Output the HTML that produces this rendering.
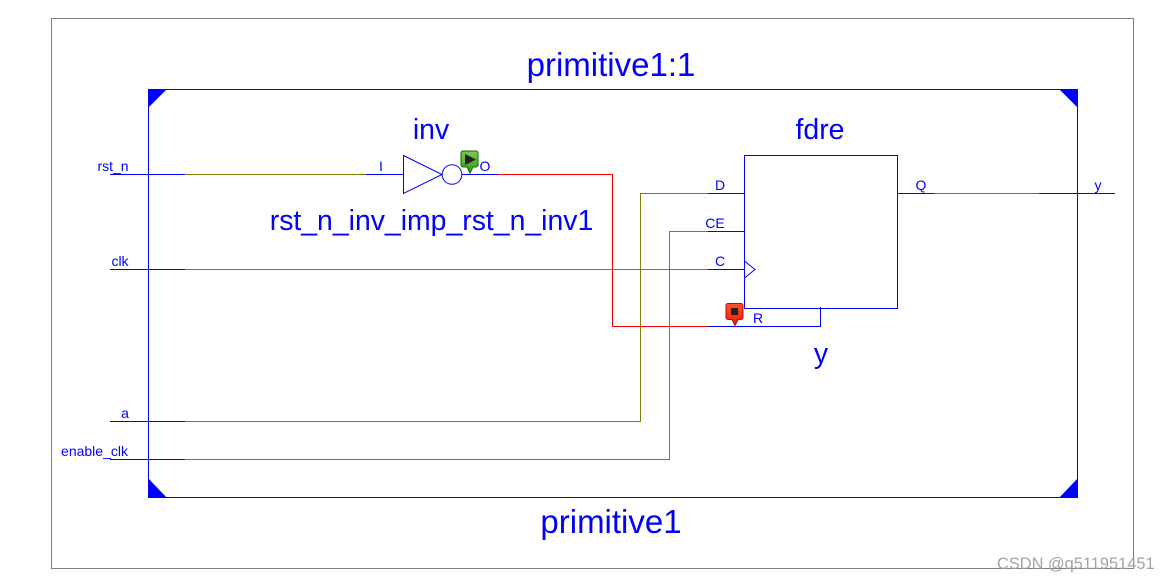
<!DOCTYPE html>
<html>
<head>
<meta charset="utf-8">
<style>
html,body{margin:0;padding:0;background:#fff;width:1169px;height:582px;overflow:hidden}
svg{display:block}
text{font-family:"Liberation Sans",Arial,sans-serif;fill:#0000ff}
.b{font-size:33px;text-anchor:middle}
.m{font-size:28.4px;text-anchor:middle}
.s{font-size:14px;text-anchor:middle}
</style>
</head>
<body>
<svg width="1169" height="582" viewBox="0 0 1169 582" xmlns="http://www.w3.org/2000/svg">
<defs>
<linearGradient id="g" x1="0" y1="0" x2="0" y2="1"><stop offset="0" stop-color="#80c850"/><stop offset="1" stop-color="#2f9a10"/></linearGradient>
<linearGradient id="r" x1="0" y1="0" x2="0" y2="1"><stop offset="0" stop-color="#ff5030"/><stop offset="1" stop-color="#f01800"/></linearGradient>
</defs>
<rect x="51.5" y="18.5" width="1082" height="550" fill="#fff" stroke="#808080" stroke-width="1"/>
<g shape-rendering="crispEdges" fill="none" stroke-width="1">
<!-- primitive box -->
<rect x="148.5" y="89.5" width="929" height="408" stroke="#0000ff"/>
<!-- olive wires -->
<g stroke="#808000">
<path d="M185 174.5H366"/>
<path d="M185 269.5H708"/>
<path d="M185 421.5H640.5V193.5H708"/>
<path d="M185 459.5H669.5V231.5H708"/>
<path d="M934 193.5H1039"/>
</g>
<!-- red wire -->
<path d="M498 174.5H612.5V326.5H708" stroke="#ff0000"/>
<!-- blue stubs -->
<g stroke="#0000ff">
<path d="M110 174.5H185"/>
<path d="M110 269.5H185"/>
<path d="M110 421.5H185"/>
<path d="M110 459.5H185"/>
<path d="M366 174.5H403"/>
<path d="M462 174.5H498"/>
<path d="M708 193.5H744"/>
<path d="M708 231.5H744"/>
<path d="M708 269.5H744"/>
<path d="M708 326.5H820.5V307"/>
<path d="M897 193.5H934"/>
<path d="M1039 193.5H1115"/>
<rect x="744.5" y="155.5" width="153" height="153"/>
</g>
</g>
<!-- corner triangles -->
<g fill="#0000ff">
<polygon points="148,89 167,89 148,108"/>
<polygon points="1078,89 1059,89 1078,108"/>
<polygon points="148,498 167,498 148,478"/>
<polygon points="1078,498 1059,498 1078,478"/>
</g>
<!-- inverter -->
<polygon points="403.5,155.5 442,174.5 403.5,193.5" fill="#fff" stroke="#0000ff" stroke-width="1"/>
<circle cx="452" cy="174.5" r="9.8" fill="#fff" stroke="#0000ff" stroke-width="1"/>
<!-- clock -->
<polyline points="744.5,261 755,269.5 744.5,278" fill="none" stroke="#0000ff" stroke-width="1"/>
<!-- green marker -->
<path d="M463 151h13a2 2 0 0 1 2 2v12a2 2 0 0 1-2 2h-3l-3 6-3-6h-4a2 2 0 0 1-2-2v-12a2 2 0 0 1 2-2z" fill="url(#g)" stroke="#0f6a05" stroke-width="1"/>
<polygon points="465,154 476,159.5 465,165" fill="#222"/>
<!-- red marker -->
<path d="M728 303.5h13a2 2 0 0 1 2 2v12a2 2 0 0 1-2 2h-3l-3 6-3-6h-4a2 2 0 0 1-2-2v-12a2 2 0 0 1 2-2z" fill="url(#r)" stroke="#b01000" stroke-width="1"/>
<rect x="731" y="308" width="7" height="7" fill="#222"/>
<!-- large labels -->
<text class="b" x="611" y="76">primitive1:1</text>
<text class="b" x="611" y="533">primitive1</text>
<text class="m" x="431" y="139">inv</text>
<text class="m" x="431.5" y="230">rst_n_inv_imp_rst_n_inv1</text>
<text class="m" x="820" y="139">fdre</text>
<text class="m" x="821" y="363">y</text>
<!-- small labels -->
<text class="s" x="113" y="171">rst_n</text>
<text class="s" x="120" y="266">clk</text>
<text class="s" x="125" y="418">a</text>
<text class="s" x="94.5" y="456">enable_clk</text>
<text class="s" x="381" y="171">I</text>
<text class="s" x="485" y="171">O</text>
<text class="s" x="720" y="190">D</text>
<text class="s" x="715" y="228">CE</text>
<text class="s" x="720" y="266">C</text>
<text class="s" x="758" y="323">R</text>
<text class="s" x="921" y="190">Q</text>
<text class="s" x="1098" y="190">y</text>
<text x="997" y="569" style="font-size:16.4px;fill:#9a9a9a;opacity:.9">CSDN @q511951451</text>
</svg>
</body>
</html>
